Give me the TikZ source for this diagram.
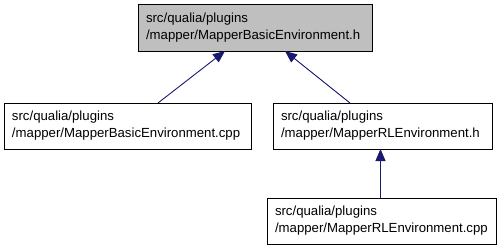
\documentclass[tikz,border=0pt]{standalone}
\usepackage{fontspec}
\setmainfont{Liberation Sans}
\usetikzlibrary{arrows.meta,calc}
\definecolor{edgeblue}{HTML}{191970}
\definecolor{headfill}{HTML}{BFBFBF}
\begin{document}
\begin{tikzpicture}[x=1pt,y=-1pt,
  filebox/.style={draw=black,line width=0.8pt,fill=white,inner xsep=8pt,inner ysep=0pt,
    outer sep=0pt,align=left,anchor=center,
    font=\fontsize{13.2}{17}\selectfont},
  dep/.style={draw=edgeblue,line width=0.9pt,
    -{Triangle[length=12pt,width=10pt,fill=edgeblue]}}]
\useasboundingbox (0,0) rectangle (503,251);
% header under inspection
\node[filebox,fill=headfill,text width=218pt,minimum height=47pt] (t) at (255,27.5)
  {src/qualia/plugins\\/mapper/MapperBasicEnvironment.h};
% files that include it
\node[filebox,text width=231pt,minimum height=46pt] (l) at (127.5,126)
  {src/qualia/plugins\\/mapper/MapperBasicEnvironment.cpp};
\node[filebox,text width=203pt,minimum height=46pt] (r) at (382.5,126)
  {src/qualia/plugins\\/mapper/MapperRLEnvironment.h};
\node[filebox,text width=213pt,minimum height=46pt] (b) at (381.5,221)
  {src/qualia/plugins\\/mapper/MapperRLEnvironment.cpp};
% include relations
\draw[dep] ([xshift=30.5pt]l.north) -- ([xshift=-30pt]t.south);
\draw[dep] ([xshift=-32.5pt]r.north) -- ([xshift=30pt]t.south);
\draw[dep] ([xshift=-1pt]b.north) -- ([xshift=-2pt]r.south);
\end{tikzpicture}
\end{document}
